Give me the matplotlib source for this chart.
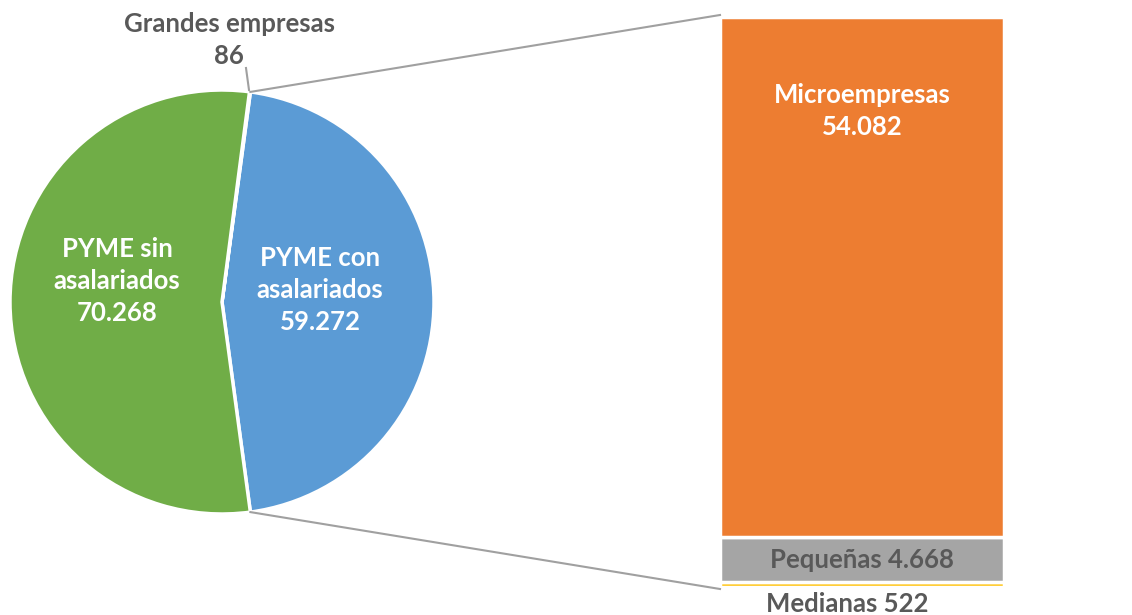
import numpy as np
import matplotlib
matplotlib.use("Agg")
import matplotlib.pyplot as plt
from matplotlib.lines import Line2D

# ---- data ----
pie_labels = ["PYME con\nasalariados", "Grandes empresas", "PYME sin\nasalariados"]
pie_values = [59272, 86, 70268]
pie_colors = ["#5B9BD5", "#A5A5A5", "#70AD47"]

bar_labels = ["Medianas", "Pequeñas", "Microempresas"]
bar_values = [522, 4668, 54082]
bar_colors = ["#FFC000", "#A5A5A5", "#ED7D31"]

def fmt(v):
    return f"{v:,}".replace(",", ".")

W, H = 1132, 615
fig = plt.figure(figsize=(W / 100, H / 100), dpi=100)
plt.rcParams['font.family'] = ['Lato', 'DejaVu Sans']

ax = fig.add_axes([0, 0, 1, 1])
ax.set_xlim(0, W)
ax.set_ylim(0, H)
ax.axis("off")

cx, cy, r = 222, H - 302, 212
total = sum(pie_values)
blue_deg = pie_values[0] / total * 360
start = -blue_deg / 2
wedges, _ = ax.pie(pie_values, colors=pie_colors, startangle=start, counterclock=True,
                   center=(cx, cy), radius=r, frame=True,
                   wedgeprops=dict(edgecolor="white", linewidth=2.5))
ax.set_xlim(0, W)
ax.set_ylim(0, H)
ax.set_aspect("equal")
ax.axis("off")

FS = 18.5
# labels in pie
lab_kw = dict(ha="center", va="center", fontsize=FS, fontweight="bold", linespacing=1.38)
ax.text(117, H - 281, f"{pie_labels[2]}\n{fmt(pie_values[2])}", color="white", **lab_kw)
ax.text(320, H - 290, f"{pie_labels[0]}\n{fmt(pie_values[0])}", color="white", **lab_kw)
ax.text(229, H - 40, f"{pie_labels[1]}\n{fmt(pie_values[1])}", color="#595959", **lab_kw)
ax.plot([246, 249], [H - 68, H - 90], color="#A0A0A0", lw=1.5)

# bar axes
bx0, bx1 = 720, 1004
by_top, by_bot = 17, 587
bax = fig.add_axes([bx0 / W, (H - by_bot) / H, (bx1 - bx0) / W, (by_bot - by_top) / H])
btotal = sum(bar_values)
bottom = 0
for v, c in zip(bar_values, bar_colors):
    bax.bar(0, v, bottom=bottom, width=1.0, color=c, edgecolor="white", linewidth=2.5)
    bottom += v
bax.set_xlim(-0.5, 0.5)
bax.set_ylim(0, btotal)
bax.axis("off")

# bar labels
bax.text(0, btotal - 0.165 * btotal, f"{bar_labels[2]}\n{fmt(bar_values[2])}", color="white", **lab_kw)
bax.text(0, bar_values[0] + bar_values[1] / 2, f"{bar_labels[1]} {fmt(bar_values[1])}",
         color="#595959", ha="center", va="center", fontsize=FS, fontweight="bold")
ax.text(847, H - 604, f"{bar_labels[0]} {fmt(bar_values[0])}", color="#595959",
        ha="center", va="center", fontsize=FS, fontweight="bold")

# connector lines
a1 = np.deg2rad(start + blue_deg)
a2 = np.deg2rad(start)
p1 = (cx + r * np.cos(a1), cy + r * np.sin(a1))
p2 = (cx + r * np.cos(a2), cy + r * np.sin(a2))
ax.add_line(Line2D([p1[0], bx0], [p1[1], H - by_top + 2], color="#A0A0A0", lw=1.5))
ax.add_line(Line2D([p2[0], bx0], [p2[1], H - by_bot - 2], color="#A0A0A0", lw=1.5))

fig.savefig("out.png", dpi=100, facecolor="white")
